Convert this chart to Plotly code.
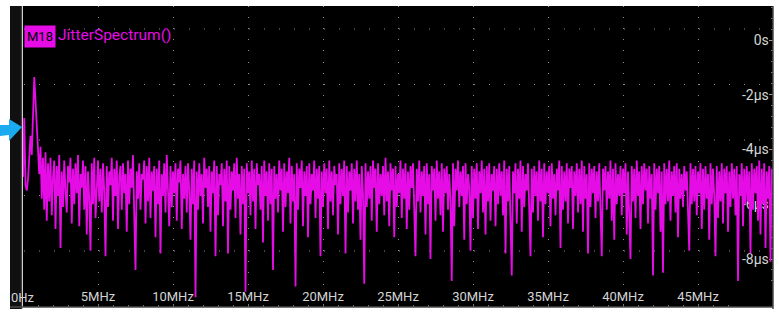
import numpy as np
import plotly.graph_objects as go

# ---- data ----
freq_step_mhz = 50 / 600
jitter_us = [
    -5.0, -2.85, -5.3, -5.5, -5.1, -4.4, -3.5, -4.2, -3.0, -1.35, -2.2, -3.0, -3.8, -4.9, -3.9, -5.8, -4.3, -6.2, -4.1, -6.6,
    -4.5, -5.9, -4.3, -6.4, -5.0, -4.4, -6.9, -4.6, -5.7, -4.2, -7.6, -4.8, -6.1, -4.4, -5.5, -6.3, -4.6, -5.2, -4.3, -6.7,
    -4.7, -6.0, -4.5, -5.6, -4.2, -6.8, -4.9, -5.4, -4.4, -6.2, -4.6, -7.1, -4.8, -5.8, -7.7, -4.5, -6.0, -4.3, -6.5, -5.1,
    -4.4, -5.9, -4.7, -6.3, -4.5, -5.5, -7.9, -4.6, -6.1, -4.8, -5.3, -4.3, -6.6, -4.7, -5.7, -4.4, -6.9, -5.0, -4.6, -6.2,
    -4.5, -5.6, -4.9, -7.0, -4.4, -6.0, -4.7, -5.4, -4.2, -6.4, -8.4, -4.8, -5.8, -4.5, -6.2, -4.9, -5.1, -4.4, -6.7, -4.6,
    -5.9, -4.3, -6.5, -4.8, -5.5, -4.6, -7.2, -4.7, -6.0, -4.4, -7.8, -4.9, -5.7, -4.5, -6.3, -4.2, -5.4, -6.8, -4.6, -6.1,
    -4.8, -5.6, -4.5, -6.6, -4.7, -5.2, -4.4, -6.9, -4.9, -5.8, -4.6, -6.3, -4.5, -5.5, -7.3, -4.7, -6.0, -4.4, -9.4, -4.8,
    -6.2, -4.5, -5.7, -4.9, -6.7, -4.3, -5.4, -4.7, -6.1, -4.6, -7.0, -4.8, -5.6, -4.4, -7.9, -4.6, -6.4, -4.9, -5.3, -4.5,
    -6.8, -4.7, -5.9, -4.4, -7.8, -4.6, -6.2, -4.8, -5.5, -4.5, -6.5, -4.3, -5.8, -4.9, -7.1, -4.6, -6.0, -4.7, -9.2, -4.5,
    -5.6, -4.8, -6.4, -4.4, -5.9, -4.7, -6.9, -4.5, -5.3, -4.9, -6.2, -4.6, -7.4, -4.4, -5.7, -4.8, -6.6, -4.5, -6.0, -4.7,
    -8.4, -4.6, -5.8, -4.9, -6.3, -4.4, -5.5, -4.7, -7.0, -4.5, -6.1, -4.8, -5.6, -4.3, -6.7, -4.6, -5.9, -4.9, -9.0, -4.5,
    -6.2, -4.7, -5.4, -4.4, -6.8, -4.8, -5.7, -4.6, -7.2, -4.5, -6.0, -4.9, -5.5, -4.4, -6.5, -4.7, -5.8, -4.6, -7.9, -4.8,
    -6.1, -4.5, -5.6, -4.7, -6.9, -4.4, -5.9, -4.8, -6.4, -4.6, -5.3, -4.9, -7.1, -4.5, -6.0, -4.7, -5.7, -4.4, -7.8, -4.6,
    -6.3, -4.8, -5.5, -4.5, -6.7, -4.7, -5.9, -4.4, -6.2, -4.9, -7.3, -4.6, -5.6, -8.9, -4.5, -6.1, -4.8, -5.8, -4.6, -6.6,
    -4.4, -5.4, -4.7, -7.0, -4.5, -6.0, -4.9, -5.7, -4.6, -6.4, -4.3, -5.9, -4.8, -6.8, -4.5, -5.5, -4.7, -7.2, -4.6, -6.1,
    -4.9, -5.6, -4.4, -6.5, -4.7, -5.8, -4.5, -6.9, -4.8, -6.2, -4.6, -5.4, -4.5, -6.7, -7.9, -4.7, -5.9, -4.4, -6.3, -4.8,
    -5.7, -4.6, -7.1, -4.5, -6.0, -4.9, -8.0, -4.6, -5.5, -4.7, -6.6, -4.4, -5.8, -4.8, -6.4, -4.5, -7.0, -4.7, -5.6, -4.6,
    -6.2, -4.9, -5.9, -8.8, -4.5, -6.8, -4.7, -5.5, -4.4, -6.1, -4.8, -5.7, -4.6, -7.3, -4.5, -6.0, -4.9, -5.4, -7.7, -4.6,
    -6.5, -4.7, -5.8, -4.5, -6.9, -4.8, -5.6, -4.4, -6.3, -4.7, -7.1, -4.6, -5.9, -4.5, -6.6, -4.9, -5.5, -4.6, -6.8, -4.7,
    -6.0, -4.5, -5.7, -4.8, -6.4, -4.4, -7.8, -4.7, -5.9, -4.6, -6.2, -8.6, -4.8, -5.6, -4.5, -6.7, -4.7, -5.8, -4.4, -7.0,
    -4.6, -6.1, -4.9, -5.5, -4.5, -6.9, -7.9, -4.7, -6.3, -4.6, -5.7, -4.8, -6.6, -4.4, -5.9, -4.7, -7.2, -4.5, -6.0, -4.8,
    -5.6, -4.6, -6.8, -4.5, -5.8, -4.9, -6.4, -4.7, -5.5, -4.4, -7.6, -4.6, -6.2, -4.8, -5.9, -4.5, -6.7, -4.7, -5.4, -4.6,
    -6.9, -4.8, -5.7, -4.5, -6.3, -4.7, -6.0, -4.4, -7.0, -4.6, -5.8, -4.9, -7.8, -4.5, -6.1, -4.7, -5.6, -4.6, -6.5, -4.8,
    -5.9, -4.5, -6.8, -7.9, -4.7, -5.5, -4.6, -6.2, -4.8, -5.8, -4.4, -6.6, -4.7, -7.3, -4.5, -6.0, -4.9, -5.7, -4.6, -6.4,
    -4.7, -5.6, -4.5, -7.1, -4.8, -6.1, -8.0, -4.6, -5.9, -4.7, -6.5, -4.4, -5.7, -4.8, -6.9, -4.6, -6.0, -4.5, -5.5, -4.7,
    -6.7, -4.6, -5.8, -4.9, -8.6, -4.5, -6.2, -4.7, -5.6, -4.6, -7.0, -4.8, -8.5, -4.5, -6.0, -4.7, -5.9, -4.4, -6.6, -4.8,
    -5.7, -4.6, -6.3, -4.5, -7.2, -4.7, -5.8, -4.9, -6.1, -4.6, -5.5, -4.8, -6.8, -7.7, -4.5, -6.0, -4.7, -5.9, -4.6, -6.4,
    -4.8, -5.6, -4.5, -6.9, -4.7, -6.2, -4.6, -5.8, -4.9, -7.3, -4.5, -6.0, -4.7, -5.7, -7.9, -4.6, -6.5, -4.8, -5.9, -4.5,
    -6.7, -4.7, -5.6, -4.6, -7.0, -4.8, -6.1, -4.5, -5.8, -4.7, -6.4, -4.6, -8.8, -4.9, -5.7, -4.5, -6.8, -4.7, -6.0, -4.6,
    -5.9, -4.8, -7.8, -4.5, -6.2, -4.7, -5.6, -4.6, -6.6, -4.4, -7.1, -4.7, -6.0, -4.5, -7.6, -4.8, -5.8, -4.6, -8.1, -4.7,
]
freq_mhz = np.arange(len(jitter_us)) * freq_step_mhz

x_tickvals = [0, 5, 10, 15, 20, 25, 30, 35, 40, 45]
x_ticktext = ["0Hz", "5MHz", "10MHz", "15MHz", "20MHz", "25MHz", "30MHz", "35MHz", "40MHz", "45MHz"]
y_tickvals = [0, -2, -4, -6, -8]
y_ticktext = ["0s", "-2μs", "-4μs", "-6μs", "-8μs"]

badge_text = "M18"
title_text = "JitterSpectrum()"

# ---- style ----
W, H = 779, 312
ML, MR, MT, MB = 23, 6, 6, 5
PW, PH = W - ML - MR, H - MT - MB
MAG = "#e60ce6"
GRID = "#8c8c8c"
LABEL = "#d4d4d4"
FONT = "Roboto"


def px_x(px):
    return (px - ML) / PW


def px_y(py):
    return (H - MB - py) / PH


fig = go.Figure()
fig.add_trace(go.Scatter(
    x=freq_mhz, y=jitter_us, mode="lines",
    line=dict(color=MAG, width=1.8), hoverinfo="skip", showlegend=False,
))

shapes = []
# horizontal graticule rows (scope screen divisions)
for py in [29, 84.5, 140, 195.5, 251]:
    shapes.append(dict(type="line", xref="x domain", yref="y domain",
                       x0=px_x(24), x1=1, y0=px_y(py), y1=px_y(py),
                       line=dict(color=GRID, width=1, dash="1px,14px"), layer="below"))
# left dark strip and borders
shapes.append(dict(type="rect", xref="paper", yref="paper",
                   x0=px_x(10), x1=px_x(21), y0=px_y(309), y1=px_y(6),
                   fillcolor="#101010", line=dict(width=0), layer="below"))
shapes.append(dict(type="line", xref="paper", yref="paper",
                   x0=px_x(21.5), x1=px_x(21.5), y0=px_y(309), y1=px_y(6),
                   line=dict(color="#3c3c3c", width=1.5), layer="above"))
shapes.append(dict(type="line", xref="paper", yref="paper",
                   x0=1, x1=1, y0=px_y(309), y1=px_y(6),
                   line=dict(color="#4a4a4a", width=1.5), layer="above"))
shapes.append(dict(type="line", xref="paper", yref="paper",
                   x0=px_x(10), x1=1, y0=0, y1=0,
                   line=dict(color="#4a4a4a", width=1.5), layer="above"))


# blue channel offset arrow
def pt(px, py):
    return f"{px_x(px):.5f},{px_y(py):.5f}"


arrow = (f"M {pt(0,125)} L {pt(9,125)} L {pt(9,119)} L {pt(22,127)} "
         f"L {pt(9,141)} L {pt(9,135)} L {pt(0,136)} Z")
shapes.append(dict(type="path", xref="paper", yref="paper", path=arrow,
                   fillcolor="#1aaaf0", line=dict(width=0), layer="above"))

annotations = [
    dict(xref="paper", yref="paper", x=px_x(40), y=px_y(36.5), text=badge_text,
         showarrow=False, bgcolor=MAG, borderpad=2, width=26, height=17,
         font=dict(family=FONT, size=13, color="#000000"),
         xanchor="center", yanchor="middle"),
    dict(xref="paper", yref="paper", x=px_x(56), y=px_y(35), text=title_text,
         showarrow=False, font=dict(family=FONT, size=15.5, color=MAG),
         xanchor="left", yanchor="middle"),
    # first x tick label (inside labels overflowing the plot are dropped by plotly)
    dict(xref="x", yref="paper", x=x_tickvals[0], y=px_y(297), text=x_ticktext[0],
         showarrow=False, font=dict(family=FONT, size=13, color=LABEL),
         xanchor="center", yanchor="middle"),
]

fig.update_layout(
    width=W, height=H,
    margin=dict(l=ML, r=MR, t=MT, b=MB, pad=0),
    paper_bgcolor="#ffffff", plot_bgcolor="#000000",
    shapes=shapes, annotations=annotations,
    showlegend=False,
    xaxis=dict(
        range=[0, 50], tickvals=x_tickvals, ticktext=x_ticktext,
        showgrid=True, gridcolor=GRID, gridwidth=1, griddash="1px,10.1px",
        ticks="inside", ticklen=3, tickcolor="#777777",
        ticklabelposition="inside", ticklabelstandoff=0,
        tickfont=dict(family=FONT, size=13, color=LABEL),
        minor=dict(dtick=1, tick0=0, ticks="inside", ticklen=2, tickcolor="#777777", showgrid=False),
        zeroline=False, showline=False, layer="below traces", fixedrange=True,
    ),
    yaxis=dict(
        range=[-9.753, 1.242], side="right",
        tickvals=y_tickvals, ticktext=y_ticktext,
        showgrid=False, zeroline=False, showline=False,
        ticks="inside", ticklen=4, tickcolor="#9a9a9a",
        ticklabelposition="inside", ticklabelstandoff=0,
        tickfont=dict(family=FONT, size=14, color=LABEL),
        minor=dict(dtick=0.4, tick0=0, ticks="inside", ticklen=2, tickcolor="#777777", showgrid=False),
        layer="below traces", fixedrange=True,
    ),
)

fig.write_html(
    "out.html",
    config={"displayModeBar": False},
    post_script="document.body.style.margin='0';document.body.style.overflow='hidden';",
)
